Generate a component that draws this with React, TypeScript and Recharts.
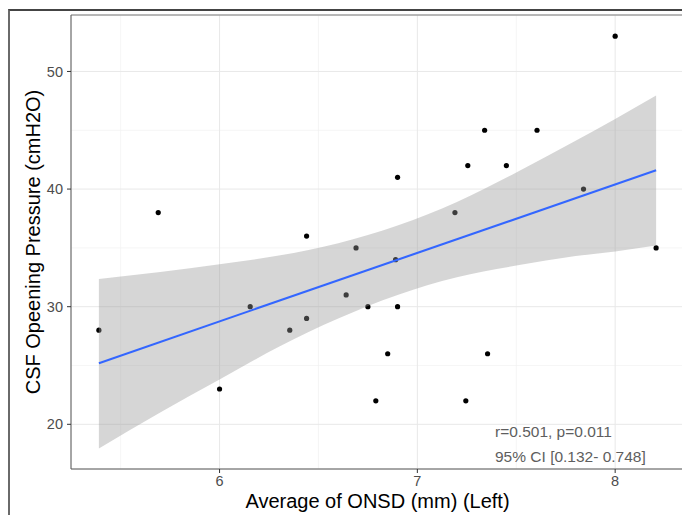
import {
  ComposedChart,
  Scatter,
  Area,
  Line,
  XAxis,
  YAxis,
  CartesianGrid,
  ReferenceLine,
} from 'recharts';

// ONSD (mm, left) vs CSF opening pressure (cmH2O)
const onsd = [
  5.39, 5.69, 6.0, 6.155, 6.355, 6.44, 6.44, 6.64, 6.69, 6.75, 6.79, 6.85, 6.89,
  6.9, 6.9, 7.19, 7.255, 7.245, 7.34, 7.355, 7.45, 7.605, 7.84, 8.0, 8.207,
];
const csf = [
  28, 38, 23, 30, 28, 36, 29, 31, 35, 30, 22, 26, 34, 41, 30, 38, 42, 22, 45, 26,
  42, 45, 40, 53, 35,
];

// lm fit and its 95% band
const fitX = [5.39, 8.207];
const fitY = [25.2, 41.6];
const bandX = [5.39, 5.7, 6.0, 6.3, 6.6, 6.9, 7.2, 7.5, 7.8, 8.0, 8.207];
const bandLow = [17.95, 21.0, 23.8, 26.6, 29.0, 31.0, 32.5, 33.5, 34.3, 34.7, 35.2];
const bandHigh = [32.35, 32.95, 33.6, 34.35, 35.4, 36.9, 38.9, 41.4, 44.1, 45.95, 47.95];

const xTicks = [6, 7, 8];
const yTicks = [20, 30, 40, 50];
const xMinor = [5.5, 6.5, 7.5];
const yMinor = [25, 35, 45];
const xDomain = [5.249, 8.348];
const yDomain = [16.2, 54.8];

const statLines = ['r=0.501, p=0.011', '95% CI [0.132- 0.748]'];

const points = onsd.map((x, i) => ({ x, y: csf[i] }));
const band = bandX.map((x, i) => ({ x, range: [bandLow[i], bandHigh[i]] }));
const fit = fitX.map((x, i) => ({ x, fit: fitY[i] }));

const FONT = '"Liberation Sans", Arial, Helvetica, sans-serif';
const tickStyle = { fill: '#4d4d4d', fontSize: 14.5, fontFamily: FONT };

export default function App() {
  return (
    <div
      style={{
        position: 'absolute',
        left: 0,
        top: 0,
        width: 682,
        height: 515,
        overflow: 'hidden',
        background: '#fff',
        fontFamily: FONT,
      }}
    >
      <div
        style={{
          position: 'absolute',
          left: 8,
          top: 9,
          width: 720,
          height: 560,
          borderTop: '2px solid #444',
          borderLeft: '2px solid #6a6a6a',
        }}
      />
      <div style={{ position: 'absolute', left: 0, top: 0 }}>
        <ComposedChart
          width={700}
          height={515}
          margin={{ top: 15, right: 16, bottom: 0, left: 0 }}
        >
          <CartesianGrid
            stroke="#f0f0f0"
            strokeWidth={0.7}
            horizontalValues={yMinor}
            verticalValues={xMinor}
          />
          <CartesianGrid stroke="#e8e8e8" strokeWidth={1} />
          <XAxis
            type="number"
            dataKey="x"
            domain={xDomain}
            allowDataOverflow
            ticks={xTicks}
            interval={0}
            height={46}
            tick={tickStyle}
            tickSize={4}
            tickMargin={3}
            stroke="#595959"
            tickLine={{ stroke: '#333' }}
            label={{
              content: (props: any) => {
                const vb = props.viewBox || { x: 71, y: 469, width: 613, height: 46 };
                return (
                  <text
                    x={vb.x + vb.width / 2}
                    y={vb.y + vb.height - 7}
                    textAnchor="middle"
                    fill="#000"
                    fontSize={20}
                    fontFamily={FONT}
                  >
                    Average of ONSD (mm) (Left)
                  </text>
                );
              },
            }}
          />
          <YAxis
            type="number"
            domain={yDomain}
            allowDataOverflow
            ticks={yTicks}
            interval={0}
            width={71}
            tick={tickStyle}
            tickSize={4}
            tickMargin={4}
            stroke="#595959"
            tickLine={{ stroke: '#333' }}
            label={{
              content: (props: any) => {
                const vb = props.viewBox || { x: 0, y: 15, width: 71, height: 454 };
                const cx = vb.x + 33;
                const cy = vb.y + vb.height / 2;
                return (
                  <text
                    x={cx}
                    y={cy}
                    transform={`rotate(-90, ${cx}, ${cy})`}
                    textAnchor="middle"
                    dominantBaseline="central"
                    fill="#000"
                    fontSize={20}
                    fontFamily={FONT}
                  >
                    CSF Opeening Pressure (cmH2O)
                  </text>
                );
              },
            }}
          />
          <ReferenceLine y={yDomain[1]} stroke="#7a7a7a" strokeWidth={1} ifOverflow="extendDomain" />
          <Scatter
            data={points}
            dataKey="y"
            zIndex={50}
            isAnimationActive={false}
            shape={(p: any) => <circle cx={p.cx} cy={p.cy} r={2.6} fill="#000" />}
          />
          <Area
            data={band}
            dataKey="range"
            type="monotone"
            stroke="none"
            fill="#999999"
            fillOpacity={0.4}
            isAnimationActive={false}
            activeDot={false}
          />
          <Line
            data={fit}
            dataKey="fit"
            type="linear"
            stroke="#3366FF"
            strokeWidth={2.1}
            dot={false}
            activeDot={false}
            isAnimationActive={false}
          />
        </ComposedChart>
      </div>
      <div
        style={{
          position: 'absolute',
          left: 495,
          top: 419,
          fontSize: 15.5,
          lineHeight: '25px',
          color: '#5e5e5e',
          whiteSpace: 'nowrap',
        }}
      >
        {statLines.map((s) => (
          <div key={s}>{s}</div>
        ))}
      </div>
    </div>
  );
}
